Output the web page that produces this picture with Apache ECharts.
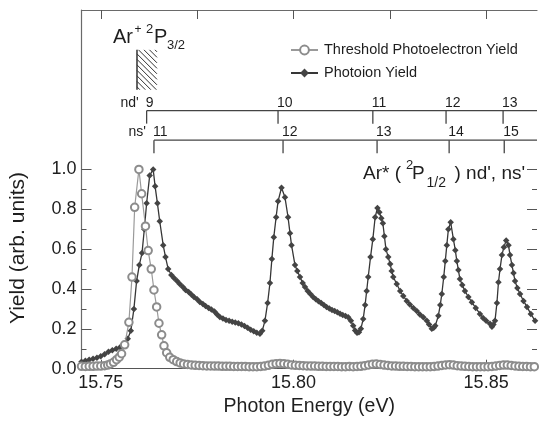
<!DOCTYPE html>
<html><head><meta charset="utf-8">
<script src="https://cdn.jsdelivr.net/npm/echarts@6/dist/echarts.min.js"></script>
<style>html,body{margin:0;padding:0;background:#fff}#c{width:539px;height:426px}</style>
</head><body><div id="c"></div>
<script>
// ---- data ----
const xTickValues = [15.75, 15.80, 15.85];
const xTopTickValues = [15.75, 15.775, 15.80, 15.825, 15.85];
const yTickValues = [0, 0.2, 0.4, 0.6, 0.8, 1.0];
const yMinorTickValues = [0.1, 0.3, 0.5, 0.7, 0.9];
const ndEnergies = [15.7619, 15.7960, 15.8206, 15.8396, 15.8544];
const ndLabels = ['9', '10', '11', '12', '13'];
const nsEnergies = [15.7638, 15.7973, 15.8217, 15.8404, 15.8547];
const nsLabels = ['11', '12', '13', '14', '15'];
const thresholdEnergy = 15.7594;
const thresholdBand = [1.4, 1.6];
const ndLevel = 1.295;
const nsLevel = 1.147;

const tpeData = [
[15.7450,0.012],[15.7460,0.011],[15.7470,0.012],[15.7480,0.012],[15.7490,0.013],[15.7500,0.013],
[15.7510,0.015],[15.7518,0.018],[15.7525,0.024],[15.7533,0.032],[15.7541,0.045],[15.7548,0.058],
[15.7554,0.075],[15.7562,0.12],[15.7573,0.233],[15.7581,0.46],[15.7588,0.81],[15.7599,1.0],
[15.7606,0.878],[15.7616,0.715],[15.7623,0.593],[15.7631,0.50],[15.7638,0.395],[15.7645,0.31],
[15.7651,0.228],[15.7658,0.17],[15.7664,0.115],[15.7671,0.08],[15.7679,0.057],[15.7688,0.045],
[15.7697,0.036],[15.7706,0.029],[15.7715,0.024],[15.7725,0.021],[15.7735,0.019],[15.7745,0.017],
[15.7755,0.016],[15.7765,0.015],[15.7775,0.014],[15.7785,0.014],[15.7795,0.013],[15.7805,0.013],
[15.7815,0.012],[15.7825,0.012],[15.7835,0.012],[15.7845,0.011],[15.7855,0.011],[15.7865,0.011],
[15.7875,0.011],[15.7885,0.010],[15.7895,0.010],[15.7905,0.010],[15.7915,0.011],[15.7925,0.013],
[15.7935,0.017],[15.7945,0.022],[15.7955,0.025],[15.7965,0.026],[15.7975,0.025],[15.7985,0.022],
[15.7995,0.019],[15.8005,0.017],[15.8015,0.016],[15.8025,0.015],[15.8035,0.014],[15.8045,0.013],
[15.8055,0.013],[15.8065,0.012],[15.8075,0.012],[15.8085,0.011],[15.8095,0.011],[15.8105,0.011],
[15.8115,0.011],[15.8125,0.010],[15.8135,0.010],[15.8145,0.011],[15.8155,0.010],[15.8165,0.011],
[15.8175,0.012],[15.8185,0.015],[15.8195,0.019],[15.8205,0.022],[15.8215,0.023],[15.8225,0.021],
[15.8235,0.018],[15.8245,0.016],[15.8255,0.014],[15.8265,0.013],[15.8275,0.012],[15.8285,0.012],
[15.8295,0.011],[15.8305,0.011],[15.8315,0.010],[15.8325,0.010],[15.8335,0.010],[15.8345,0.010],
[15.8355,0.010],[15.8365,0.011],[15.8375,0.013],[15.8385,0.016],[15.8395,0.019],[15.8405,0.020],
[15.8415,0.018],[15.8425,0.015],[15.8435,0.013],[15.8445,0.012],[15.8455,0.011],[15.8465,0.010],
[15.8475,0.010],[15.8485,0.010],[15.8495,0.010],[15.8505,0.010],[15.8515,0.011],[15.8525,0.013],
[15.8535,0.016],[15.8545,0.018],[15.8555,0.018],[15.8565,0.016],[15.8575,0.014],[15.8585,0.012],
[15.8595,0.011],[15.8605,0.011],[15.8615,0.010],[15.8625,0.010]
];

const piData = [
[15.7450,0.035],[15.7460,0.040],[15.7470,0.045],[15.7480,0.050],[15.7490,0.055],[15.7500,0.062],
[15.7510,0.072],[15.7520,0.085],[15.7530,0.092],[15.7540,0.100],[15.7550,0.108],[15.7560,0.125],
[15.7570,0.150],[15.7578,0.190],[15.7586,0.300],[15.7593,0.440],[15.7600,0.520],[15.7607,0.580],
[15.7613,0.700],[15.7619,0.830],[15.7627,0.970],[15.7636,1.000],[15.7641,0.915],[15.7647,0.830],
[15.7653,0.740],[15.7662,0.620],[15.7668,0.560],[15.7675,0.500],[15.7683,0.470],[15.7690,0.455],
[15.7698,0.440],[15.7705,0.425],[15.7713,0.410],[15.7720,0.395],[15.7728,0.385],[15.7735,0.372],
[15.7742,0.360],[15.7750,0.348],[15.7757,0.335],[15.7765,0.325],[15.7772,0.315],[15.7780,0.305],
[15.7787,0.297],[15.7795,0.287],[15.7802,0.272],[15.7809,0.260],[15.7817,0.252],[15.7825,0.245],
[15.7833,0.240],[15.7841,0.236],[15.7849,0.232],[15.7857,0.228],[15.7865,0.222],[15.7873,0.214],
[15.7881,0.205],[15.7889,0.195],[15.7897,0.188],[15.7905,0.180],[15.7913,0.176],[15.7919,0.190],
[15.7926,0.240],[15.7933,0.330],[15.7939,0.430],[15.7944,0.550],[15.7949,0.660],[15.7955,0.760],
[15.7960,0.840],[15.7969,0.908],[15.7978,0.860],[15.7986,0.760],[15.7991,0.680],[15.7995,0.620],
[15.8004,0.520],[15.8010,0.490],[15.8017,0.460],[15.8024,0.430],[15.8030,0.410],[15.8037,0.390],
[15.8044,0.375],[15.8051,0.360],[15.8058,0.348],[15.8065,0.338],[15.8072,0.330],[15.8079,0.320],
[15.8086,0.310],[15.8093,0.302],[15.8100,0.295],[15.8107,0.290],[15.8114,0.283],[15.8121,0.276],
[15.8128,0.270],[15.8135,0.265],[15.8142,0.258],[15.8149,0.240],[15.8155,0.215],[15.8160,0.192],
[15.8165,0.180],[15.8170,0.183],[15.8175,0.200],[15.8181,0.250],[15.8186,0.320],[15.8190,0.390],
[15.8194,0.460],[15.8200,0.560],[15.8206,0.650],[15.8212,0.760],[15.8218,0.807],[15.8223,0.785],
[15.8228,0.755],[15.8232,0.730],[15.8236,0.665],[15.8240,0.600],[15.8246,0.560],[15.8251,0.525],
[15.8255,0.490],[15.8259,0.460],[15.8268,0.425],[15.8277,0.390],[15.8285,0.365],[15.8294,0.340],
[15.8302,0.322],[15.8311,0.305],[15.8320,0.290],[15.8328,0.272],[15.8337,0.258],[15.8346,0.240],
[15.8352,0.222],[15.8359,0.200],[15.8364,0.205],[15.8368,0.215],[15.8376,0.266],[15.8381,0.320],
[15.8385,0.375],[15.8390,0.460],[15.8394,0.540],[15.8398,0.620],[15.8402,0.700],[15.8408,0.735],
[15.8415,0.650],[15.8420,0.595],[15.8424,0.540],[15.8428,0.495],[15.8432,0.450],[15.8438,0.420],
[15.8445,0.390],[15.8454,0.360],[15.8463,0.333],[15.8473,0.305],[15.8484,0.275],[15.8492,0.255],
[15.8500,0.240],[15.8510,0.225],[15.8515,0.210],[15.8519,0.222],[15.8523,0.240],[15.8528,0.330],
[15.8532,0.434],[15.8536,0.500],[15.8541,0.570],[15.8546,0.610],[15.8552,0.643],[15.8558,0.620],
[15.8562,0.570],[15.8567,0.520],[15.8571,0.480],[15.8575,0.440],[15.8581,0.405],[15.8588,0.375],
[15.8597,0.340],[15.8606,0.310],[15.8616,0.275],[15.8627,0.240]
];

// ---- chart ----
const FF = '"Liberation Sans", Arial, Helvetica, sans-serif';
const TXT = '#1e1e1e';
const AX = '#6a6a6a';
const chart = echarts.init(document.getElementById('c'), null, {renderer: 'canvas'});

function scaleSeries(name, energies, labels, level) {
  return {
    type: 'custom', name: name, xAxisIndex: 0, yAxisIndex: 0, z: 5, silent: true,
    data: energies.map(e => [e, level]),
    renderItem: function (params, api) {
      const p = api.coord([api.value(0), api.value(1)]);
      const cs = params.coordSys;
      const i = params.dataIndex;
      const children = [
        {type: 'line', shape: {x1: p[0], y1: p[1], x2: p[0], y2: p[1] + 13}, style: {stroke: '#444', lineWidth: 1.3}},
        {type: 'text', x: p[0] - 1, y: p[1] - 0.5, style: {text: labels[i], font: '14px ' + FF, fill: TXT, align: 'left', verticalAlign: 'bottom'}}
      ];
      if (i === 0) {
        children.push({type: 'line', shape: {x1: p[0], y1: p[1], x2: cs.x + cs.width, y2: p[1]}, style: {stroke: '#444', lineWidth: 1.3}});
        children.push({type: 'text', x: p[0] - 8, y: p[1] - 0.5, style: {text: name, font: '14px ' + FF, fill: TXT, align: 'right', verticalAlign: 'bottom'}});
      }
      return {type: 'group', children: children};
    }
  };
}

const option = {
  animation: false,
  backgroundColor: '#fff',
  grid: {left: 81.5, right: 2, top: 10, bottom: 57.3},
  legend: {
    orient: 'vertical', left: 285, top: 37.5, itemWidth: 27, itemHeight: 11, itemGap: 8,
    data: ['Threshold Photoelectron Yield', 'Photoion Yield'],
    textStyle: {fontFamily: FF, fontSize: 14.5, color: TXT, padding: [0, 0, 0, 1]}
  },
  xAxis: [
    {type: 'value', position: 'bottom', min: 15.745, max: 15.8632,
     axisLine: {onZero: false, lineStyle: {color: '#555', width: 1.2}},
     axisTick: {inside: true, length: 9, customValues: xTickValues, lineStyle: {color: '#555'}},
     axisLabel: {customValues: xTickValues, formatter: v => v.toFixed(2), fontFamily: FF, fontSize: 18, color: TXT, margin: 5},
     splitLine: {show: false},
     name: 'Photon Energy (eV)', nameLocation: 'middle', nameGap: 27,
     nameTextStyle: {fontFamily: FF, fontSize: 19.5, color: TXT}},
    {type: 'value', position: 'top', min: 15.745, max: 15.8632,
     axisLine: {onZero: false, lineStyle: {color: AX, width: 1.2}},
     axisTick: {inside: true, length: 9, customValues: xTopTickValues, lineStyle: {color: '#555'}},
     axisLabel: {show: false}, splitLine: {show: false}}
  ],
  yAxis: [
    {type: 'value', position: 'left', min: 0, max: 1.8,
     axisLine: {show: true, onZero: false, lineStyle: {color: AX, width: 1.2}},
     axisTick: {inside: true, length: 10, customValues: yTickValues, lineStyle: {color: '#555'}},
     axisLabel: {customValues: yTickValues, formatter: v => v.toFixed(1), fontFamily: FF, fontSize: 18, color: TXT, margin: 5},
     splitLine: {show: false}},
    {type: 'value', position: 'left', offset: 0, min: 0, max: 1.8,
     axisLine: {show: false, onZero: false},
     axisTick: {inside: true, length: 5, customValues: yMinorTickValues, lineStyle: {color: '#555'}},
     axisLabel: {show: false}, splitLine: {show: false}},
    {type: 'value', position: 'right', offset: 0, min: 0, max: 1.8,
     axisLine: {show: false, onZero: false},
     axisTick: {show: true, inside: true, length: 10, customValues: yTickValues, lineStyle: {color: '#555'}},
     axisLabel: {show: false}, splitLine: {show: false}},
    {type: 'value', position: 'right', offset: 0, min: 0, max: 1.8,
     axisLine: {show: false, onZero: false},
     axisTick: {show: true, inside: true, length: 5, customValues: yMinorTickValues, lineStyle: {color: '#555'}},
     axisLabel: {show: false}, splitLine: {show: false}}
  ],
  graphic: [
    {type: 'text', x: 18, y: 248, rotation: Math.PI / 2,
     style: {text: 'Yield (arb. units)', font: '21px ' + FF, fill: TXT, align: 'center', verticalAlign: 'middle'}},
    // Ar+ 2P3/2
    {type: 'text', x: 113, y: 37.5, style: {text: 'Ar', font: '20px ' + FF, fill: TXT, align: 'left', verticalAlign: 'middle'}},
    {type: 'text', x: 134.5, y: 29.5, style: {text: '+', font: '12px ' + FF, fill: TXT, align: 'left', verticalAlign: 'middle'}},
    {type: 'text', x: 146, y: 29.5, style: {text: '2', font: '13px ' + FF, fill: TXT, align: 'left', verticalAlign: 'middle'}},
    {type: 'text', x: 154, y: 37.5, style: {text: 'P', font: '20px ' + FF, fill: TXT, align: 'left', verticalAlign: 'middle'}},
    {type: 'text', x: 167, y: 45.5, style: {text: '3/2', font: '13px ' + FF, fill: TXT, align: 'left', verticalAlign: 'middle'}},
    // Ar* ( 2P1/2 ) nd', ns'
    {type: 'text', x: 363, y: 173.5, style: {text: 'Ar* (', font: '19px ' + FF, fill: TXT, align: 'left', verticalAlign: 'middle'}},
    {type: 'text', x: 406, y: 165, style: {text: '2', font: '13px ' + FF, fill: TXT, align: 'left', verticalAlign: 'middle'}},
    {type: 'text', x: 412, y: 173.5, style: {text: 'P', font: '19px ' + FF, fill: TXT, align: 'left', verticalAlign: 'middle'}},
    {type: 'text', x: 426.5, y: 183, style: {text: '1/2', font: '14px ' + FF, fill: TXT, align: 'left', verticalAlign: 'middle'}},
    {type: 'text', x: 454.5, y: 173.5, style: {text: ") nd', ns'", font: '19px ' + FF, fill: TXT, align: 'left', verticalAlign: 'middle'}}
  ],
  series: [
    {name: 'Photoion Yield', type: 'line', xAxisIndex: 0, yAxisIndex: 0, data: piData, z: 3,
     symbol: 'diamond', symbolSize: 6.5, showSymbol: true, showAllSymbol: true,
     itemStyle: {color: '#444'}, lineStyle: {color: '#363636', width: 1.3}},
    {name: 'Threshold Photoelectron Yield', type: 'line', xAxisIndex: 0, yAxisIndex: 0, data: tpeData, z: 4,
     symbol: 'emptyCircle', symbolSize: 7.5, showSymbol: true, showAllSymbol: true,
     itemStyle: {color: '#8c8c8c', borderWidth: 1.1}, lineStyle: {color: '#9a9a9a', width: 1.2}},
    scaleSeries("nd'", ndEnergies, ndLabels, ndLevel),
    scaleSeries("ns'", nsEnergies, nsLabels, nsLevel),
    {type: 'custom', name: 'threshold', xAxisIndex: 0, yAxisIndex: 0, z: 5, silent: true,
     data: [[thresholdEnergy, thresholdBand[1], thresholdBand[0]]],
     renderItem: function (params, api) {
       const top = api.coord([api.value(0), api.value(1)]);
       const bot = api.coord([api.value(0), api.value(2)]);
       const x0 = top[0], y0 = top[1], h = bot[1] - top[1], w = 20;
       const ch = [{type: 'line', shape: {x1: x0, y1: y0, x2: x0, y2: y0 + h}, style: {stroke: '#333', lineWidth: 1.5}}];
       for (let c = -w + 2; c < h; c += 5.5) {
         const xa = Math.max(0, -c), xb = Math.min(w, h - c);
         if (xb > xa) ch.push({type: 'line', shape: {x1: x0 + xa, y1: y0 + xa + c, x2: x0 + xb, y2: y0 + xb + c}, style: {stroke: '#333', lineWidth: 1}});
       }
       return {type: 'group', children: ch};
     }}
  ]
};
chart.setOption(option);
</script>
</body></html>
